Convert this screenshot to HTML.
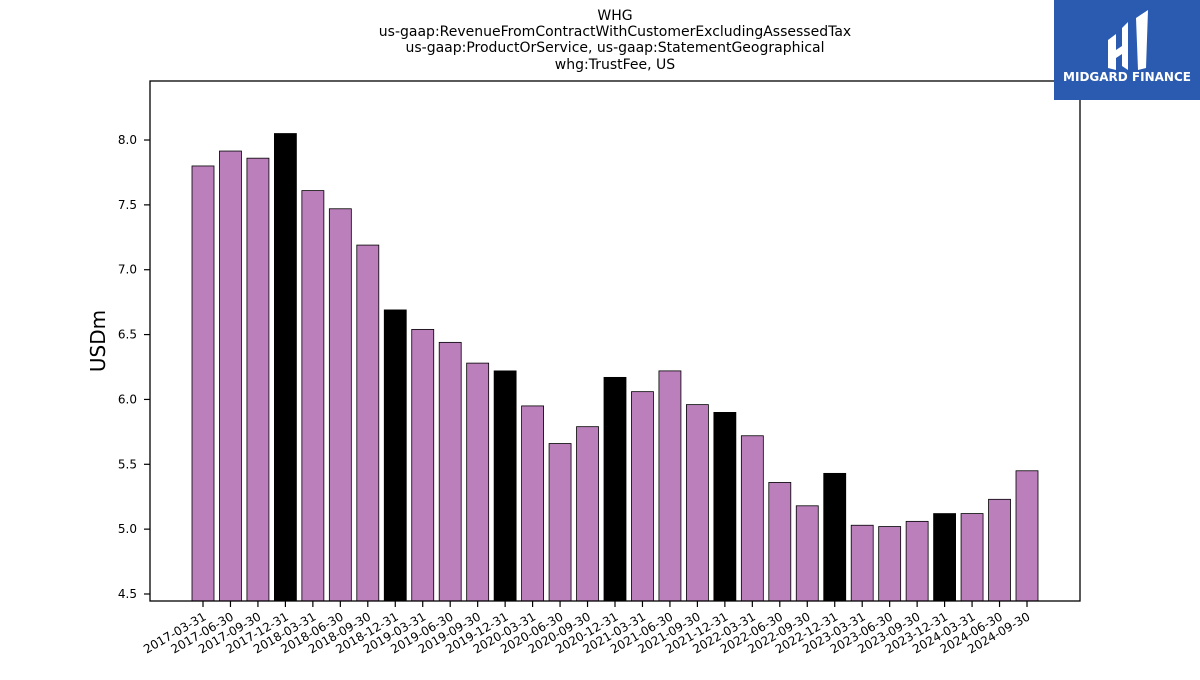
<!DOCTYPE html>
<html><head><meta charset="utf-8"><style>
body{margin:0;background:#fff;font-family:"Liberation Sans",sans-serif}
svg text{font-family:"DejaVu Sans","Liberation Sans",sans-serif}
</style></head><body>
<svg width="1200" height="675" xmlns="http://www.w3.org/2000/svg">
<g font-size="14" text-anchor="middle" fill="#000">
<text x="615" y="20">WHG</text>
<text x="615" y="36">us-gaap:RevenueFromContractWithCustomerExcludingAssessedTax</text>
<text x="615" y="52">us-gaap:ProductOrService, us-gaap:StatementGeographical</text>
<text x="615" y="69">whg:TrustFee, US</text>
</g>
<g id="plot"></g>
<rect x="150" y="81" width="930" height="520" fill="none" stroke="#000" stroke-width="1.3"/>
<text x="105" y="341" font-size="20" text-anchor="middle" transform="rotate(-90 105 341)">USDm</text>
<g>
<rect x="1054" y="0" width="146" height="100" fill="#2b5bb0"/>
<path d="M1108 40 L1116 34 L1116 70 L1108 68 Z M1122 28 L1128 22 L1128 70 L1122 66 Z M1136 18 L1148 10 L1146 68 L1138 70 Z M1116 50 L1128 42 L1128 50 L1116 58Z" fill="#fff"/>
<text x="1127" y="81" font-size="12" font-weight="bold" fill="#fff" text-anchor="middle" font-family="Liberation Sans">MIDGARD FINANCE</text>
</g>
</svg>
<script>
const categories=["2017-03-31","2017-06-30","2017-09-30","2017-12-31","2018-03-31","2018-06-30","2018-09-30","2018-12-31","2019-03-31","2019-06-30","2019-09-30","2019-12-31","2020-03-31","2020-06-30","2020-09-30","2020-12-31","2021-03-31","2021-06-30","2021-09-30","2021-12-31","2022-03-31","2022-06-30","2022-09-30","2022-12-31","2023-03-31","2023-06-30","2023-09-30","2023-12-31","2024-03-31","2024-06-30","2024-09-30"];
const values=[7.80,7.915,7.86,8.05,7.61,7.47,7.19,6.69,6.54,6.44,6.28,6.22,5.95,5.66,5.79,6.17,6.06,6.22,5.96,5.90,5.72,5.36,5.18,5.43,5.03,5.02,5.06,5.12,5.12,5.23,5.45];
const yTicks=[4.5,5.0,5.5,6.0,6.5,7.0,7.5,8.0];
const NS="http://www.w3.org/2000/svg";
const g=document.getElementById('plot');
const yMin=4.446,yMax=8.455,pTop=81,pBot=601;
const y=v=>pBot-(v-yMin)/(yMax-yMin)*(pBot-pTop);
const step=(1027-203)/(categories.length-1);
const x=i=>203+i*step;
function mk(t,a){const e=document.createElementNS(NS,t);for(const k in a)e.setAttribute(k,a[k]);g.appendChild(e);return e;}
categories.forEach((c,i)=>{
  const v=values[i];
  const r=mk('rect',{x:x(i)-11,y:y(v),width:22,height:pBot-y(v),fill:c.endsWith('12-31')?'#000':'#bb7fbb',stroke:'#000','stroke-width':0.8});
  
  
  const t=mk('line',{x1:x(i),x2:x(i),y1:pBot,y2:pBot+6,stroke:'#000','stroke-width':1.2});
  
  
  const l=mk('text',{x:x(i)+4,y:pBot+18,'font-size':12,'text-anchor':'end',transform:`rotate(-30 ${x(i)+4} ${pBot+18})`});
  l.textContent=c;
  
  
});
yTicks.forEach(v=>{
  const t=mk('line',{x1:144,x2:150,y1:y(v),y2:y(v),stroke:'#000','stroke-width':1.2});
  
  
  const l=mk('text',{x:137,y:y(v)+4,'font-size':12,'text-anchor':'end'});
  l.textContent=v.toFixed(1);
  
  
});
</script>
</body></html>
